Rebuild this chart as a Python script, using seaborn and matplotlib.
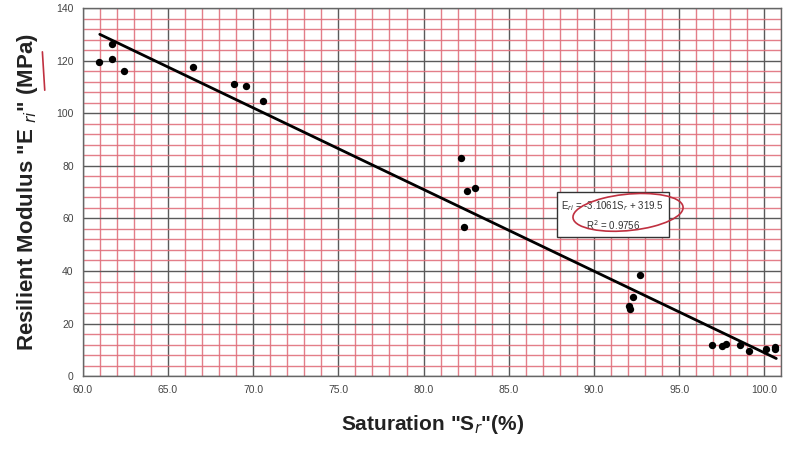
import matplotlib
matplotlib.use("Agg")
import matplotlib.pyplot as plt
from matplotlib.patches import Ellipse
from matplotlib.ticker import MultipleLocator
import numpy as np
import pandas as pd
import seaborn as sns

# Datos
saturation = [60.96, 61.74, 61.74, 62.44, 66.48, 68.85, 69.57, 70.6,
              82.2, 82.57, 83.0, 82.4,
              92.7, 92.32, 92.05, 92.12,
              96.93, 97.5, 97.75, 98.6, 99.1, 100.1, 100.6, 100.65]
modulus = [119.5, 126.2, 120.5, 116.2, 117.7, 111.1, 110.5, 104.6,
           82.8, 70.3, 71.4, 56.9,
           38.5, 30.2, 26.6, 25.4,
           12.0, 11.4, 12.2, 12.0, 9.5, 10.4, 10.4, 11.0]

# Recta de ajuste mostrada en la etiqueta
slope = -3.1061
intercept = 319.5
r2 = 0.9756
fit_range = [61.0, 100.7]

x_ticks = [60, 65, 70, 75, 80, 85, 90, 95, 100]
y_ticks = [0, 20, 40, 60, 80, 100, 120, 140]

df = pd.DataFrame({"Sr": saturation, "Eri": modulus})
fit = pd.DataFrame({"Sr": fit_range})
fit["Eri"] = slope * fit["Sr"] + intercept

sns.set_style("white")
plt.rcParams["font.family"] = ["Liberation Sans", "DejaVu Sans"]

fig = plt.figure(figsize=(7.85, 4.51), dpi=100)
ax = fig.add_axes([0.1054, 0.166, 0.89, 0.816])

# Rejilla tipo papel milimetrado
ax.xaxis.set_major_locator(MultipleLocator(5))
ax.xaxis.set_minor_locator(MultipleLocator(1))
ax.yaxis.set_major_locator(MultipleLocator(20))
ax.yaxis.set_minor_locator(MultipleLocator(4))
ax.grid(which="minor", color="#e0707c", linewidth=1.0, alpha=0.9)
ax.grid(which="major", color="#5a5a5a", linewidth=1.0)
ax.set_axisbelow(True)

sns.lineplot(data=fit, x="Sr", y="Eri", color="black", linewidth=2.0, ax=ax, zorder=3)
sns.scatterplot(data=df, x="Sr", y="Eri", color="black", s=28, edgecolor="black",
                linewidth=0, ax=ax, zorder=4)

ax.set_xlim(60, 101)
ax.set_ylim(0, 140)
ax.set_xticks(x_ticks)
ax.set_xticklabels([f"{t:.1f}" for t in x_ticks])
ax.set_yticks(y_ticks)
ax.tick_params(which="major", length=3, labelsize=7.5, labelcolor="#444444", color="#444444")
ax.tick_params(which="minor", length=0)
for s in ax.spines.values():
    s.set_color("#666666")
    s.set_linewidth(1.0)

ax.set_xlabel('Saturation "S$_r$"(%)', fontsize=15, fontweight="bold", color="#222222", labelpad=13)
ax.set_ylabel('Resilient Modulus "E $_{ri}$" (MPa)', fontsize=16, fontweight="bold", color="#222222",
              labelpad=12)

# Etiqueta de la ecuacion
label = f"E$_{{ri}}$ = {slope:.4f}S$_r$ + {intercept}\nR$^2$ = {r2}"
ax.text(91.1, 61.1, label, ha="center", va="center", fontsize=7, color="#333333",
        linespacing=1.5, zorder=5,
        bbox=dict(boxstyle="square,pad=0.5", facecolor="white", edgecolor="#333333", linewidth=1))

# Marca roja hecha a mano
ax.add_patch(Ellipse((92.0, 62.3), width=6.2, height=14.5, angle=-8, fill=False,
                     edgecolor="#c03040", linewidth=1.2, zorder=6))
fig.add_artist(plt.Line2D([0.054, 0.057], [0.885, 0.80], color="#c03040", linewidth=1.2))

plt.savefig("out.png", dpi=100)
